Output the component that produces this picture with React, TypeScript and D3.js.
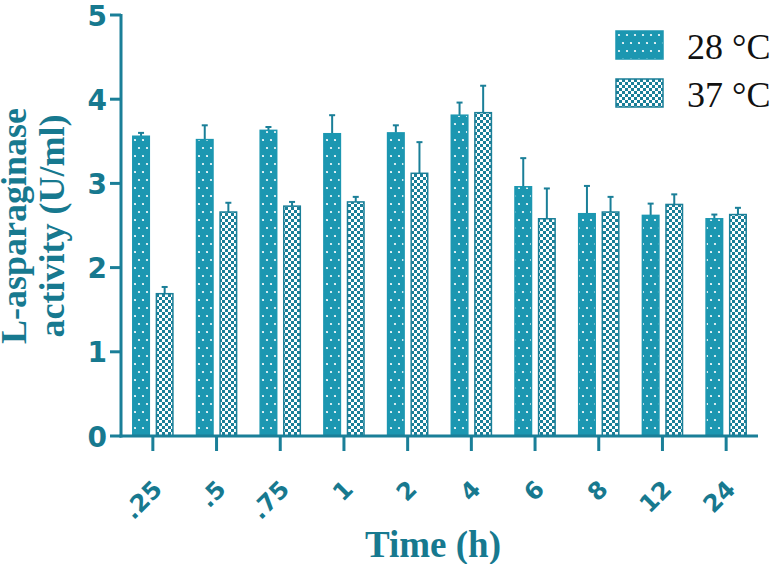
import React from "react";
import { scaleBand, scaleLinear } from "d3";

// time points (h) and the two temperatures
const times = [".25", ".5", ".75", "1", "2", "4", "6", "8", "12", "24"];
const series = ["28 °C", "37 °C"];
const mean28 = [3.56, 3.52, 3.63, 3.59, 3.6, 3.81, 2.96, 2.64, 2.62, 2.58];
const err28 = [0.04, 0.17, 0.04, 0.22, 0.09, 0.15, 0.34, 0.33, 0.14, 0.05];
const mean37 = [1.69, 2.66, 2.73, 2.78, 3.12, 3.84, 2.58, 2.66, 2.75, 2.63];
const err37 = [0.08, 0.11, 0.05, 0.06, 0.37, 0.32, 0.36, 0.18, 0.12, 0.08];
const yTicks = [0, 1, 2, 3, 4, 5];

const W = 774;
const H = 564;
const BAR = "#1c97b1";
const AXIS = "#1a7f98";
const TEXT = "#17798f";

export default function App() {
  const x = scaleBand<string>()
    .domain(times)
    .range([121, 758])
    .paddingInner(0.37)
    .paddingOuter(0.185);
  const xs = scaleBand<string>()
    .domain(series)
    .range([0, x.bandwidth()])
    .paddingInner(0.3);
  const y = scaleLinear().domain([0, 5]).range([436, 15]);

  const values = [mean28, mean37];
  const errors = [err28, err37];
  const fills = ["url(#dots)", "url(#checks)"];

  return (
    <svg
      width={W}
      height={H}
      style={{ position: "absolute", left: 0, top: 0, background: "#fff" }}
    >
      <defs>
        <pattern id="dots" width={8} height={16} patternUnits="userSpaceOnUse">
          <rect width={8} height={16} fill={BAR} />
          <circle cx={3} cy={4} r={1.1} fill="#fff" />
          <circle cx={7} cy={12} r={1.1} fill="#fff" />
        </pattern>
        <pattern id="checks" width={6} height={6} patternUnits="userSpaceOnUse">
          <rect width={6} height={6} fill="#fff" />
          <rect width={3} height={3} fill={AXIS} />
          <rect x={3} y={3} width={3} height={3} fill={AXIS} />
        </pattern>
      </defs>

      {/* bars + error bars */}
      {series.map((s, si) => (
        <g key={s}>
          {times.map((t, i) => {
            const bx = (x(t) ?? 0) + (xs(s) ?? 0);
            const bw = xs.bandwidth();
            const top = y(values[si][i]);
            const cap = y(values[si][i] + errors[si][i]);
            const cx = bx + bw / 2;
            return (
              <g key={t}>
                <line x1={cx} x2={cx} y1={top} y2={cap} stroke={AXIS} strokeWidth={2} />
                <line x1={cx - 3} x2={cx + 3} y1={cap} y2={cap} stroke={AXIS} strokeWidth={2} />
                <rect
                  x={bx}
                  y={top}
                  width={bw}
                  height={y(0) - top}
                  fill={fills[si]}
                  stroke={si === 0 ? BAR : AXIS}
                  strokeWidth={1.5}
                />
              </g>
            );
          })}
        </g>
      ))}

      {/* y axis */}
      <line x1={121} x2={121} y1={y(5) - 1} y2={y(0) + 1.5} stroke={AXIS} strokeWidth={3} />
      {yTicks.map((tk) => (
        <g key={tk}>
          <line x1={110} x2={121} y1={y(tk)} y2={y(tk)} stroke={AXIS} strokeWidth={3} />
          <text
            x={107}
            y={y(tk) + 1}
            textAnchor="end"
            dominantBaseline="central"
            fontFamily="DejaVu Sans"
            fontWeight="bold"
            fontSize={28}
            fill={TEXT}
          >
            {tk}
          </text>
        </g>
      ))}

      {/* x axis */}
      <line x1={119.5} x2={758} y1={y(0)} y2={y(0)} stroke={AXIS} strokeWidth={3} />
      {times.map((t) => {
        const cx = (x(t) ?? 0) + x.bandwidth() / 2;
        return (
          <g key={t}>
            <line x1={cx} x2={cx} y1={y(0)} y2={451} stroke={AXIS} strokeWidth={3} />
            <text
              transform={`translate(${cx + 5},${485}) rotate(-45)`}
              textAnchor="end"
              dominantBaseline="central"
              fontFamily="DejaVu Sans"
              fontWeight="bold"
              fontSize={24}
              fill={TEXT}
            >
              {t}
            </text>
          </g>
        );
      })}

      {/* axis titles */}
      <text
        x={433}
        y={557}
        textAnchor="middle"
        fontFamily="Liberation Serif"
        fontWeight="bold"
        fontSize={37}
        fill={TEXT}
      >
        Time (h)
      </text>
      <g transform="translate(0,226) rotate(-90)" fontFamily="Liberation Serif" fontWeight="bold" fontSize={36} fill={TEXT} textAnchor="middle">
        <text x={0} y={26}>L-asparaginase</text>
        <text x={0} y={64}>activity (U/ml)</text>
      </g>

      {/* legend */}
      {series.map((s, si) => (
        <g key={s} transform={`translate(616,${31 + si * 48})`}>
          <rect width={47} height={28} fill={fills[si]} stroke={si === 0 ? BAR : AXIS} strokeWidth={1.5} />
          <text x={71} y={28} fontFamily="Liberation Serif" fontSize={36} fill="#111">
            {s}
          </text>
        </g>
      ))}
    </svg>
  );
}
